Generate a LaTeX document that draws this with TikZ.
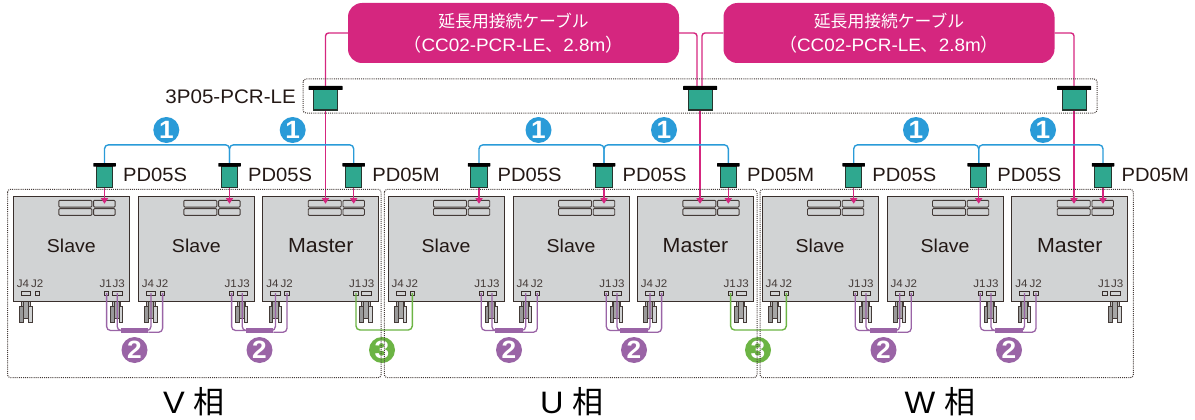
\documentclass[tikz,border=0pt]{standalone}
\usepackage{fontspec}
\setmainfont[FakeStretch=1.05]{Liberation Sans}
\newfontfamily\cjk{Noto Sans CJK JP}
\usetikzlibrary{arrows.meta,calc}
\definecolor{pinkc}{HTML}{D5267F}
\definecolor{tealc}{HTML}{2FA88F}
\definecolor{bluec}{HTML}{2A9BD8}
\definecolor{purpc}{HTML}{9A64A6}
\definecolor{greenc}{HTML}{6CB444}
\definecolor{panelc}{HTML}{D1D3D4}
\definecolor{inkc}{HTML}{231815}
\newcommand{\linetwo}{\fontsize{18}{23.5}\selectfont}
\tikzset{
  pbox/.style={fill=pinkc,draw=none,rounded corners=14pt,minimum width=331pt,minimum height=60pt,inner sep=0pt,text=white,align=center,font=\fontsize{16.8}{23.5}\selectfont},
  bigbar/.style={fill=black,draw=none,minimum width=34pt,minimum height=4pt,inner sep=0pt,rounded corners=.5pt},
  bigbody/.style={fill=tealc,draw=inkc!80!tealc,line width=1pt,minimum width=24pt,minimum height=20pt,inner sep=0pt},
  smallbar/.style={fill=black,draw=none,minimum width=22.5pt,minimum height=3.6pt,inner sep=0pt,rounded corners=.5pt},
  smallbody/.style={fill=tealc,draw=inkc!80!tealc,line width=1pt,minimum width=16.4pt,minimum height=20.5pt,inner sep=0pt},
  lbl/.style={text=inkc,inner sep=0pt,font=\fontsize{19.2}{21}\selectfont},
  lblw/.style={text=inkc,inner sep=0pt,font=\fontsize{19.6}{21}\selectfont},
  panel/.style={fill=panelc,draw=inkc!90,line width=.9pt,minimum width=116.2pt,minimum height=105.3pt,inner sep=0pt},
  blkL/.style={fill=panelc,draw=inkc!85,line width=.9pt,rounded corners=1pt,minimum width=33pt,minimum height=6.8pt,inner sep=0pt},
  blkR/.style={fill=panelc,draw=inkc!85,line width=.9pt,rounded corners=1pt,minimum width=21.5pt,minimum height=6.8pt,inner sep=0pt},
  padw/.style={fill=panelc,draw=inkc!90,line width=.8pt,minimum width=9.6pt,minimum height=4pt,inner sep=0pt},
  pads/.style={fill=panelc,draw=inkc!90,line width=.8pt,minimum width=4.4pt,minimum height=4pt,inner sep=0pt},
  jtxt/.style={text=inkc!85,inner sep=0pt,font=\fontsize{11}{12}\selectfont},
  mtxt/.style={text=inkc,inner sep=0pt},
  pinkline/.style={draw=pinkc,line width=1.4pt,rounded corners=3pt},
  pinkarrow/.style={draw=pinkc,line width=1.5pt,-{Triangle[length=5.5pt,width=7pt]}},
  blueline/.style={draw=bluec,line width=1.4pt,rounded corners=4pt},
  purpline/.style={draw=purpc,line width=1.3pt,rounded corners=4pt},
  greenline/.style={draw=greenc,line width=1.4pt,rounded corners=4pt},
  purpbar/.style={fill=purpc,draw=none,minimum width=27.5pt,minimum height=5.6pt,inner sep=0pt},
  badge/.style={circle,minimum size=26pt,inner sep=0pt,text=white,font=\fontsize{25}{25}\bfseries\selectfont},
  dotbox/.style={draw=inkc!85,line width=1pt,dash pattern=on 1pt off 1.1pt,rounded corners=3pt},
  phase/.style={text=black,inner sep=0pt,font=\fontsize{31}{33}\selectfont},
  dev/.style={draw=inkc!85,line width=.9pt}
}
\begin{document}
\begin{tikzpicture}[x=1pt,y=-1pt]
\useasboundingbox (0,0) rectangle (1195,420);
% modules
\foreach \n/\x/\t/\fs in {1/13.3/Slave/18.6,2/138.3/Slave/18.6,3/262.7/Master/20.4,4/388/Slave/18.6,5/513/Slave/18.6,6/637.3/Master/20.4,7/762/Slave/18.6,8/887/Slave/18.6,9/1011.7/Master/20.4}{
  \foreach \c in {12.7,103.4}{
    \draw[dev,fill=panelc!70!gray] ({\x+\c-4.2},300) rectangle ({\x+\c+4.2},306);
    \draw[dev,fill=gray!80] ({\x+\c-6.2},306) rectangle ({\x+\c-2.6},322.5);
    \draw[dev,fill=panelc] ({\x+\c+2.6},306) rectangle ({\x+\c+6.2},322.5);
    \draw[dev,fill=gray!70] ({\x+\c-2.6},301) rectangle ({\x+\c+2.6},318);
  }
  \node[panel] (m\n) at ({\x+58.1},248.65) {};
  \node[mtxt,font=\fontsize{\fs}{22}\selectfont] (m\n t) at ({\x+58.1},246) {\t};
  \node[blkL] (m\n L) at ({\x+62},203.7) {};
  \node[blkL] (m\n Lb) at ({\x+62},212) {};
  \node[blkR] (m\n R) at ({\x+91},203.7) {};
  \node[blkR] (m\n Rb) at ({\x+91},212) {};
  \node[padw] (m\n J4) at ({\x+12.7},293) {};
  \node[pads] (m\n J2) at ({\x+24.3},293) {};
  \node[pads] (m\n J1) at ({\x+93.3},293) {};
  \node[padw] (m\n J3) at ({\x+103.9},293) {};
  \node[jtxt] (m\n tJ4) at ({\x+9.7},283.5) {J4};
  \node[jtxt] (m\n tJ2) at ({\x+24},283.5) {J2};
  \node[jtxt] (m\n tJ1) at ({\x+92.4},283.5) {J1};
  \node[jtxt] (m\n tJ3) at ({\x+105.4},283.5) {J3};
}
% pink boxes
\node[pbox] (box1) at (513.5,33) {{\cjk 延長用接続ケーブル}\\{\linetwo\cjk （}{\linetwo CC02-PCR-LE}{\linetwo\cjk 、}{\linetwo 2.8m}{\linetwo\cjk ）}};
\node[pbox] (box2) at (889,33) {{\cjk 延長用接続ケーブル}\\{\linetwo\cjk （}{\linetwo CC02-PCR-LE}{\linetwo\cjk 、}{\linetwo 2.8m}{\linetwo\cjk ）}};
% 3P05 connectors
\foreach \n/\x in {1/325.5,2/700,3/1074}{
  \node[bigbody] (tb\n) at (\x,100) {};
  \node[bigbar] (tt\n) at (\x,88) {};
}
\node[lblw,anchor=east] (t3p) at (296,97) {3P05-PCR-LE};
\draw[pinkline] (box1.west) -| (tt1.north);
\draw[pinkline] (box1.east) -| ($(tt2.north)+(-3,0)$);
\draw[pinkline] (box2.west) -| ($(tt2.north)+(2,0)$);
\draw[pinkline] (box2.east) -| (tt3.north);
\draw[pinkarrow] (tb1.south) -- (tb1.south |- m3L.center);
\draw[pinkarrow] (tb2.south) -- (tb2.south |- m6L.center);
\draw[pinkarrow] (tb3.south) -- (tb3.south |- m9L.center);
% PD05 connectors
\foreach \n/\x/\m/\s in {1/104.5/1/PD05S,2/229.5/2/PD05S,3/353.7/3/PD05M,4/479/4/PD05S,5/604/5/PD05S,6/728.3/6/PD05M,7/853.7/7/PD05S,8/978.7/8/PD05S,9/1103/9/PD05M}{
  \node[smallbody] (pb\n) at (\x,177) {};
  \node[smallbar] (pt\n) at (\x,164.8) {};
  \node[lbl,anchor=west] (pl\n) at ({\x+18.5},175) {\s};
  \draw[pinkarrow] (pb\n.south) -- (pb\n.south |- m\m R.center);
}
% blue cables
\foreach \a/\b in {1/2,2/3,4/5,5/6,7/8,8/9}{
  \draw[blueline] (pt\a.north) -- ++(0,-18) -| (pt\b.north);
}
\foreach \n/\x in {1/166.3,2/292.7,3/538.5,4/664,5/916,6/1043}{
  \node[badge,fill=bluec] (ba\n) at (\x,130) {1};
}
% purple cables
\foreach \n/\a/\b/\x in {1/1/2/134.5,2/2/3/259.5,3/4/5/509,4/5/6/634,5/7/8/883.5,6/8/9/1009}{
  \node[purpbar] (pbar\n) at (\x,330.5) {};
  \draw[purpline] (m\a J1.center) |- (pbar\n.west);
  \draw[purpline] (m\a J3.center) |- (pbar\n.west);
  \draw[purpline] (m\b J4.center) |- (pbar\n.east);
  \draw[purpline] (m\b J2.center) |- ($(pbar\n.east)+(0,1.8)$);
  \node[badge,fill=purpc] (bb\n) at (\x,350) {2};
}
% green cables
\draw[greenline] (m3J1.center) -- ++(0,37) -| (m4J2.center);
\draw[greenline] (m6J1.center) -- ++(0,37) -| (m7J2.center);
\node[badge,fill=greenc] (bc1) at (382,350) {3};
\node[badge,fill=greenc] (bc2) at (758,350) {3};
% dotted frames
\draw[dotbox] (303,79) rectangle (1097,113);
\draw[dotbox] (7.5,189.3) rectangle (381,377.7);
\draw[dotbox] (384.3,189.3) rectangle (757,377.7);
\draw[dotbox] (760,189.3) rectangle (1133.3,377.7);
% phases
\node[phase] (pV) at (194,402) {V {\cjk 相}};
\node[phase] (pU) at (572,402) {U {\cjk 相}};
\node[phase] (pW) at (940,402) {W {\cjk 相}};
\end{tikzpicture}
\end{document}
